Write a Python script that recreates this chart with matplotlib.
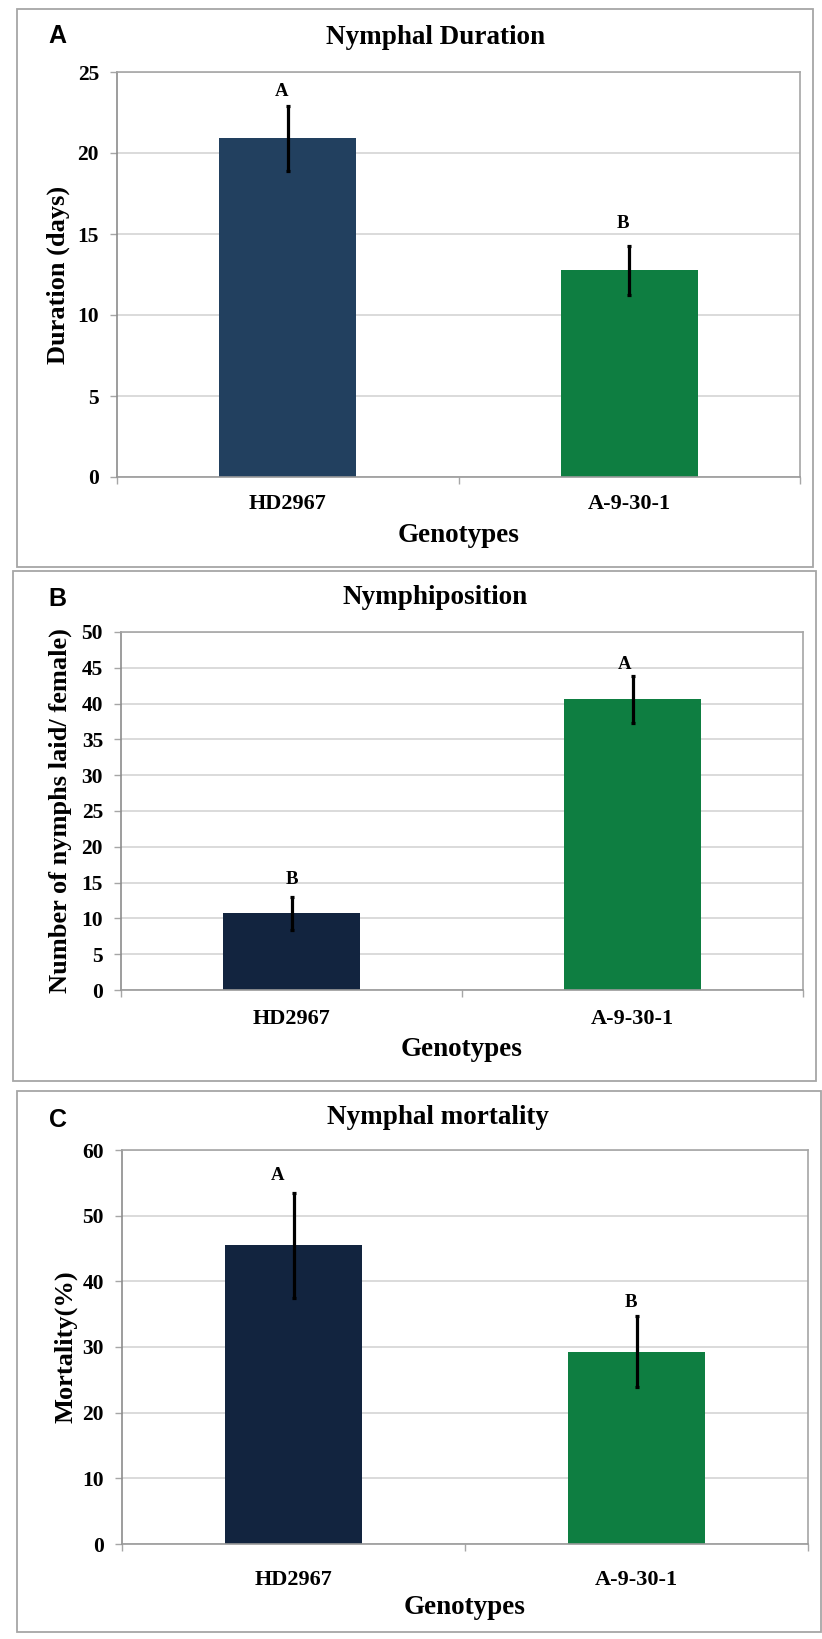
import numpy as np
import matplotlib
matplotlib.use("Agg")
import matplotlib.pyplot as plt
from matplotlib.patches import Rectangle

# data
genotypes = ["HD2967", "A-9-30-1"]

duration = [20.9, 12.75]
duration_err = [2.03, 1.53]
duration_sig = ["A", "B"]

nymphs = [10.7, 40.6]
nymphs_err = [2.3, 3.3]
nymphs_sig = ["B", "A"]

mortality = [45.5, 29.3]
mortality_err = [8.0, 5.4]
mortality_sig = ["A", "B"]

W, H = 822, 1639
serif = "Liberation Serif"
grid_c = "#d4d4d4"
frame_c = "#a6a6a6"
green = "#0e7e41"

plt.rcParams["font.family"] = serif
plt.rcParams["font.weight"] = "bold"

fig = plt.figure(figsize=(W / 100, H / 100), dpi=100)


def rect(x0, y0, x1, y1):
    return [x0 / W, 1 - y1 / H, (x1 - x0) / W, (y1 - y0) / H]


panels = [
    dict(letter="A", title="Nymphal Duration", ylabel="Duration (days)",
         vals=duration, errs=duration_err, sig=duration_sig,
         ymax=25, step=5, colors=["#22405f", green],
         box=(17, 9, 813, 567), ax=(117, 72, 800, 477),
         title_xy=(435, 37), letter_xy=(57, 36), ylab_x=58,
         xlab_y=536, tick_pad=12.5, sig_off=[(-6, 14), (-6, 22)]),
    dict(letter="B", title="Nymphiposition", ylabel="Number of nymphs laid/ female)",
         vals=nymphs, errs=nymphs_err, sig=nymphs_sig,
         ymax=50, step=5, colors=["#12243f", green],
         box=(13, 571, 816, 1081), ax=(121, 632, 803, 990),
         title_xy=(435, 598), letter_xy=(57, 599), ylab_x=60,
         xlab_y=1050, tick_pad=13.5, sig_off=[(0, 17), (-8, 11)]),
    dict(letter="C", title="Nymphal mortality", ylabel="Mortality(%)",
         vals=mortality, errs=mortality_err, sig=mortality_sig,
         ymax=60, step=10, colors=["#12243f", green],
         box=(17, 1091, 821, 1632), ax=(122, 1150, 808, 1544),
         title_xy=(438, 1118), letter_xy=(58, 1120), ylab_x=66,
         xlab_y=1608, tick_pad=19, sig_off=[(-16, 17), (-6, 14)]),
]

x = np.arange(len(genotypes))

for p in panels:
    bx0, by0, bx1, by1 = p["box"]
    fig.patches.append(Rectangle((bx0 / W, 1 - by1 / H), (bx1 - bx0) / W, (by1 - by0) / H,
                                 transform=fig.transFigure, fill=False,
                                 ec=frame_c, lw=1.3))
    ax0, ay0, ax1, ay1 = p["ax"]
    ax = fig.add_axes(rect(ax0, ay0, ax1, ay1))
    ax.bar(x, p["vals"], width=0.40, color=p["colors"], zorder=2)
    ax.errorbar(x, p["vals"], yerr=p["errs"], fmt="none", ecolor="black",
                elinewidth=2.3, capsize=1.6, capthick=2.3, zorder=3)
    for xi, v, e, s, off in zip(x, p["vals"], p["errs"], p["sig"], p["sig_off"]):
        ax.annotate(s, (xi, v + e), xytext=off, textcoords="offset pixels",
                    ha="center", va="center", fontsize=13.5, fontweight="bold")

    ax.set_xlim(-0.5, 1.5)
    ax.set_ylim(0, p["ymax"])
    ax.set_yticks(np.arange(0, p["ymax"] + 1, p["step"]))
    ax.yaxis.grid(True, color=grid_c, lw=1.2)
    ax.set_axisbelow(True)
    ax.set_xticks(x)
    ax.set_xticklabels(genotypes)
    ax.set_xticks([-0.5, 0.5, 1.5], minor=True)
    ax.tick_params(axis="x", which="major", length=0, pad=p["tick_pad"], labelsize=16)
    ax.tick_params(axis="x", which="minor", length=5, width=1, color=frame_c, direction="out")
    ax.tick_params(axis="y", length=5, width=1, color=frame_c, pad=8, labelsize=15.5)
    for lab in ax.get_xticklabels() + ax.get_yticklabels():
        lab.set_fontweight("bold")
    for sp in ax.spines.values():
        sp.set_color(frame_c)
        sp.set_linewidth(1.2)
    ax.spines["left"].set_color("#8c8c8c")
    ax.spines["bottom"].set_color("#9a9a9a")

    ax.set_ylabel(p["ylabel"], fontsize=19, fontweight="bold")
    ax.yaxis.set_label_coords((p["ylab_x"] - ax0) / (ax1 - ax0), 0.5)
    ax.yaxis.label.set_va("center")
    ax.set_xlabel("Genotypes", fontsize=19.5, fontweight="bold")
    ax.xaxis.set_label_coords(0.5, -(p["xlab_y"] - ay1) / (ay1 - ay0))
    ax.xaxis.label.set_va("center")

    tx, ty = p["title_xy"]
    fig.text(tx / W, 1 - ty / H, p["title"], ha="center", va="center",
             fontsize=19.5, fontweight="bold")
    lx, ly = p["letter_xy"]
    fig.text(lx / W, 1 - ly / H, p["letter"], ha="center", va="center",
             fontsize=18, fontweight="bold", family="Liberation Sans")

fig.savefig("out.png", dpi=100)
